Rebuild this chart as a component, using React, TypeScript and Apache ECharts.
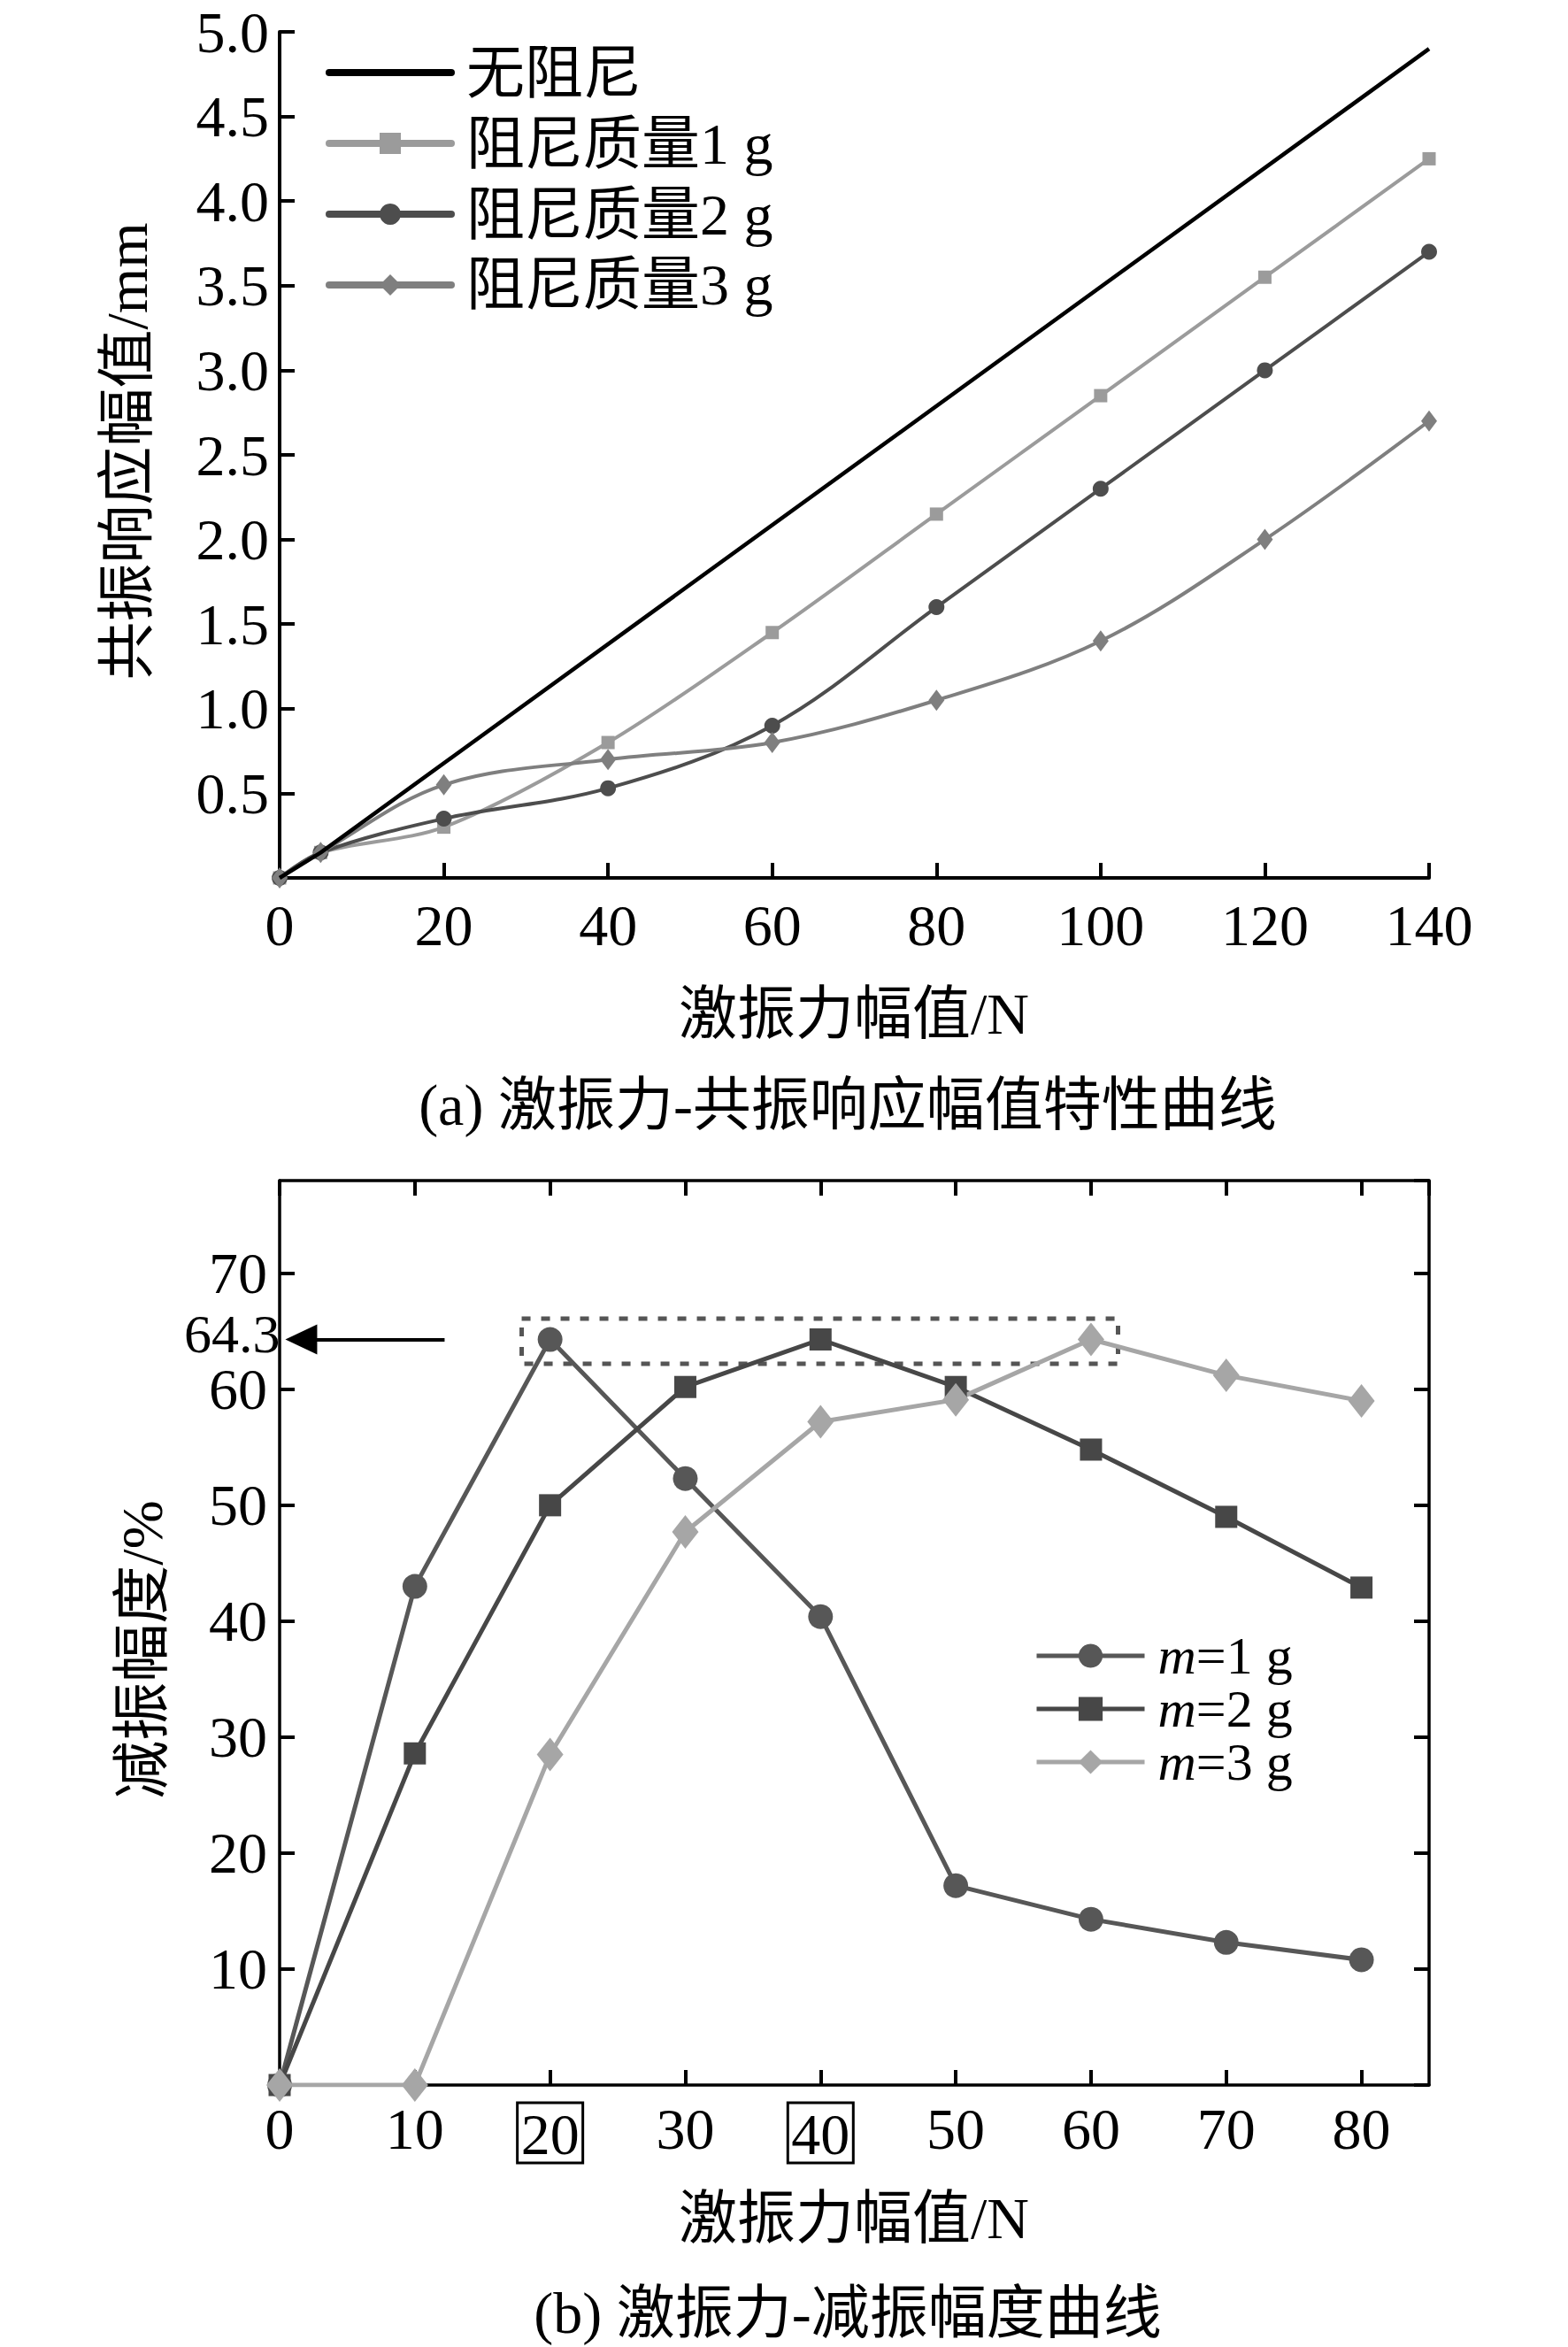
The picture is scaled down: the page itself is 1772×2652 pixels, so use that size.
import React, { useEffect, useRef } from "react";
import * as echarts from "echarts";

// ---------- (a) data ----------
const forceA = [0, 5, 20, 40, 60, 80, 100, 120, 140];
const noDampX = [0, 5, 140];
const noDampY = [0, 0.15, 4.9];
const damp1 = [0, 0.15, 0.3, 0.8, 1.45, 2.15, 2.85, 3.55, 4.25];
const damp2 = [0, 0.15, 0.35, 0.53, 0.9, 1.6, 2.3, 3.0, 3.7];
const damp3 = [0, 0.15, 0.55, 0.7, 0.8, 1.05, 1.4, 2.0, 2.7];
const namesA = ["无阻尼", "阻尼质量1 g", "阻尼质量2 g", "阻尼质量3 g"];

// ---------- (b) data ----------
const forceB = [0, 10, 20, 30, 40, 50, 60, 70, 80];
const redM1 = [0, 43, 64.3, 52.3, 40.4, 17.2, 14.3, 12.3, 10.8];
const redM2 = [0, 28.6, 50, 60.2, 64.3, 60.2, 54.8, 49, 42.9];
const redM3 = [0, 0, 28.5, 47.7, 57.2, 59.1, 64.3, 61.2, 59];
const namesB = ["m=1 g", "m=2 g", "m=3 g"];
const peakValue = 64.3;
const boxedTicks = [20, 40];
const peakBoxX = [17.9, 62];
const peakBoxY = [66.1, 62.2];
const arrowFromX = 12.2;
const arrowToX = 1.6;

const FONT = "'Liberation Serif', 'Times New Roman', 'Noto Sans CJK SC', serif";
const FS = 66;
const FS_LEG_B = 60;

const zip = (xs: number[], ys: number[]) => xs.map((x, i) => [x, ys[i]]);

export default function App() {
  const ref = useRef<HTMLDivElement>(null);
  useEffect(() => {
    document.body.style.margin = "0";
    const chart = echarts.init(ref.current!, null, { renderer: "svg" });
    const axisLineA = { show: true, onZero: false, lineStyle: { color: "#000", width: 4 } };
    const axisLineB = { show: true, onZero: false, lineStyle: { color: "#000", width: 3.5 } };
    const tick = { show: true, inside: true, length: 17, lineStyle: { color: "#000", width: 4 } };
    const label = { color: "#000", fontSize: FS, fontFamily: FONT, lineHeight: 46 };

    const option: any = {
      animation: false,
      backgroundColor: "#fff",
      grid: [
        { left: 316, top: 36, width: 1299, height: 956 },
        { left: 316, top: 1334, width: 1299, height: 1022 },
      ],
      xAxis: [
        {
          type: "value", gridIndex: 0, min: 0, max: 140, interval: 20,
          axisLine: axisLineA, axisTick: tick, splitLine: { show: false },
          axisLabel: { ...label, margin: 30 },
        },
        {
          type: "value", gridIndex: 1, min: 0, max: 85, interval: 10,
          axisLine: axisLineB, axisTick: tick, splitLine: { show: false },
          axisLabel: {
            ...label, margin: 26, showMaxLabel: false,
            formatter: (v: number) => (boxedTicks.includes(v) ? `{b|${v}}` : `${v}`),
            rich: {
              b: {
                fontSize: FS, fontFamily: FONT, color: "#000", lineHeight: 56,
                borderColor: "#000", borderWidth: 3, padding: [2, 4, 0, 4],
              },
            },
          },
        },
        {
          type: "value", gridIndex: 1, position: "top", min: 0, max: 85, interval: 10,
          axisLine: axisLineB, axisTick: tick, axisLabel: { show: false }, splitLine: { show: false },
        },
      ],
      yAxis: [
        {
          type: "value", gridIndex: 0, min: 0, max: 5, interval: 0.5,
          axisLine: axisLineA, axisTick: tick, splitLine: { show: false },
          axisLabel: { ...label, margin: 12, showMinLabel: false, formatter: (v: number) => v.toFixed(1) },
        },
        {
          type: "value", gridIndex: 1, min: 0, max: 78, interval: 10,
          axisLine: axisLineB, axisTick: tick, splitLine: { show: false },
          axisLabel: { ...label, margin: 14, showMinLabel: false, showMaxLabel: false },
        },
        {
          type: "value", gridIndex: 1, position: "right", min: 0, max: 78, interval: 10,
          axisLine: axisLineB, axisTick: tick, axisLabel: { show: false }, splitLine: { show: false },
        },
      ],
      legend: [
        {
          data: [
            { name: namesA[0], itemStyle: { color: "rgba(0,0,0,0)", opacity: 0 } },
            namesA[1], namesA[2], namesA[3],
          ],
          orient: "vertical", left: 363, top: 44,
          itemWidth: 138, itemHeight: 30, itemGap: 14,
          lineStyle: { width: 8, cap: "round" },
          textStyle: { fontSize: FS, fontFamily: FONT, color: "#000", lineHeight: 64, padding: [0, 0, 0, 12] },
        },
        {
          data: namesB, orient: "vertical", left: 1164, top: 1836,
          itemWidth: 122, itemHeight: 34, itemGap: 0,
          lineStyle: { width: 5 },
          formatter: (n: string) => `{i|m}{r|${n.slice(1)}}`,
          textStyle: {
            fontSize: FS_LEG_B, fontFamily: FONT, color: "#000", lineHeight: 58, padding: [0, 0, 0, 10],
            rich: {
              i: { fontSize: FS_LEG_B, fontFamily: FONT, fontStyle: "italic", color: "#000", lineHeight: 58 },
              r: { fontSize: FS_LEG_B, fontFamily: FONT, color: "#000", lineHeight: 58 },
            },
          },
        },
      ],
      series: [
        {
          name: namesA[0], type: "line", xAxisIndex: 0, yAxisIndex: 0,
          data: zip(noDampX, noDampY), symbol: "none", z: 5,
          itemStyle: { color: "#000" }, lineStyle: { color: "#000", width: 4.5 },
        },
        {
          name: namesA[1], type: "line", xAxisIndex: 0, yAxisIndex: 0,
          data: zip(forceA, damp1), symbol: "rect", symbolSize: 15, smooth: 0.3,
          itemStyle: { color: "#9b9b9b" }, lineStyle: { color: "#9b9b9b", width: 4 },
        },
        {
          name: namesA[2], type: "line", xAxisIndex: 0, yAxisIndex: 0,
          data: zip(forceA, damp2), symbol: "circle", symbolSize: 18, smooth: 0.35,
          itemStyle: { color: "#4d4d4d" }, lineStyle: { color: "#4d4d4d", width: 4 },
        },
        {
          name: namesA[3], type: "line", xAxisIndex: 0, yAxisIndex: 0,
          data: zip(forceA, damp3), symbol: "diamond", symbolSize: [18, 24], smooth: 0.35,
          itemStyle: { color: "#7f7f7f" }, lineStyle: { color: "#7f7f7f", width: 4 },
        },
        {
          name: namesB[0], type: "line", xAxisIndex: 1, yAxisIndex: 1,
          data: zip(forceB, redM1), symbol: "circle", symbolSize: 28,
          itemStyle: { color: "#575757" }, lineStyle: { color: "#575757", width: 5 },
          markLine: {
            silent: true, symbol: ["none", "triangle"], symbolSize: [34, 36],
            lineStyle: { color: "#000", width: 4, type: "solid" },
            label: {
              show: true, position: "end", formatter: `${peakValue}`, distance: 24,
              fontSize: 62, fontFamily: FONT, color: "#000", lineHeight: 40, offset: [0, -7],
            },
            data: [[{ coord: [arrowFromX, peakValue] }, { coord: [arrowToX, peakValue] }]],
          },
          markArea: {
            silent: true,
            itemStyle: {
              color: "rgba(0,0,0,0)", borderColor: "#555", borderWidth: 5, borderType: [10, 12],
            },
            data: [[{ coord: [peakBoxX[0], peakBoxY[0]] }, { coord: [peakBoxX[1], peakBoxY[1]] }]],
          },
        },
        {
          name: namesB[1], type: "line", xAxisIndex: 1, yAxisIndex: 1,
          data: zip(forceB, redM2), symbol: "rect", symbolSize: 25,
          itemStyle: { color: "#474747" }, lineStyle: { color: "#474747", width: 5 },
        },
        {
          name: namesB[2], type: "line", xAxisIndex: 1, yAxisIndex: 1,
          data: zip(forceB, redM3), symbol: "diamond", symbolSize: [30, 38],
          itemStyle: { color: "#a6a6a6" }, lineStyle: { color: "#a6a6a6", width: 5 },
        },
      ],
      graphic: [
        { type: "text", x: 965, y: 1145, style: { text: "激振力幅值/N", font: `${FS}px ${FONT}`, fill: "#000", align: "center", verticalAlign: "middle" } },
        { type: "text", x: 143, y: 510, rotation: Math.PI / 2, style: { text: "共振响应幅值/mm", font: `${FS}px ${FONT}`, fill: "#000", align: "center", verticalAlign: "middle" } },
        { type: "text", x: 958, y: 1248, style: { text: "(a) 激振力-共振响应幅值特性曲线", font: `${FS}px ${FONT}`, fill: "#000", align: "center", verticalAlign: "middle" } },
        { type: "text", x: 965, y: 2506, style: { text: "激振力幅值/N", font: `${FS}px ${FONT}`, fill: "#000", align: "center", verticalAlign: "middle" } },
        { type: "text", x: 160, y: 1864, rotation: Math.PI / 2, style: { text: "减振幅度/%", font: `${FS}px ${FONT}`, fill: "#000", align: "center", verticalAlign: "middle" } },
        { type: "text", x: 958, y: 2613, style: { text: "(b) 激振力-减振幅度曲线", font: `${FS}px ${FONT}`, fill: "#000", align: "center", verticalAlign: "middle" } },
      ],
    };
    chart.setOption(option);
    return () => chart.dispose();
  }, []);
  return <div ref={ref} style={{ width: 1772, height: 2652 }} />;
}
